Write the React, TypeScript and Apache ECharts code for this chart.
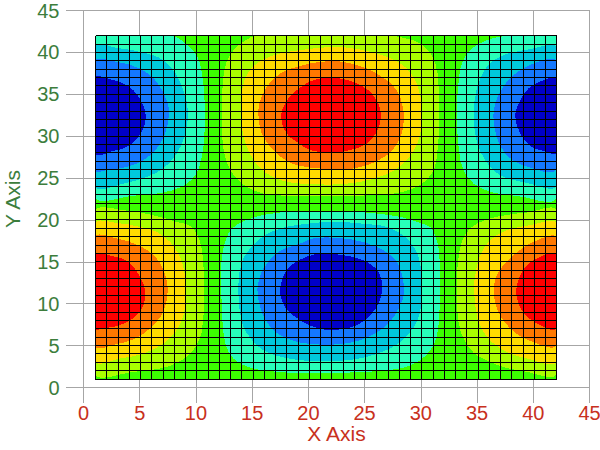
import React, { useEffect, useRef } from "react";
import * as echarts from "echarts";

const axisTicks = [0, 5, 10, 15, 20, 25, 30, 35, 40, 45];
const meshLines = [1,2,3,4,5,6,7,8,9,10,11,12,13,14,15,16,17,18,19,20,21,22,23,24,25,26,27,28,29,30,31,32,33,34,35,36,37,38,39,40,41,42];
const xTitle = "X Axis";
const yTitle = "Y Axis";

type P = [number, number];
const domain: P[] = [[1,1],[42,1],[42,42],[1,42]];

// Contour outlines, in data units
const tlAqua: P[] = [[1,42],[7.8,42],[8.99,41.1],[10.02,39.66],[10.47,37.67],[10.68,35.08],[10.77,32.5],[10.65,29.1],[10.41,27.1],[9.88,25.3],[8.69,23.95],[6.76,23.2],[4.39,22.9],[1,22.75]];
const tlCyan: P[] = [[1,40.74],[2.91,40.54],[5.28,39.98],[7.06,39.07],[8.24,37.28],[8.99,34.89],[9.25,32.7],[8.99,30.11],[8.24,27.93],[7.06,26.14],[5.58,25.14],[3.8,24.42],[1,24.07]];
const tlBlue: P[] = [[1,38.95],[2.91,38.87],[4.98,38.07],[6.47,36.48],[7.35,34.29],[7.56,32.7],[7.21,30.3],[6.47,28.52],[5.28,27.13],[3.8,26.33],[2.02,25.94],[1,25.86]];
const tlDeep: P[] = [[1,37],[2.31,36.8],[3.5,36.28],[4.39,35.48],[5.13,34.1],[5.49,32.5],[5.28,30.9],[4.69,29.7],[3.8,28.7],[2.61,28.24],[1,27.9]];

const trAqua: P[] = [[42,42],[37.75,42],[35.97,41.53],[34.49,40.46],[33.6,38.67],[33.25,35.49],[33.16,32.5],[33.34,28.32],[33.75,25.93],[34.64,24.35],[36.13,23.35],[38.5,22.87],[42,22.67]];
const trCyan: P[] = [[42,40.58],[39.68,40.38],[37.31,39.66],[35.82,38.27],[34.94,35.68],[34.64,32.5],[34.94,29.32],[35.68,27.13],[37,25.34],[39.38,24.43],[42,24.07]];
const trBlue: P[] = [[42,38.95],[39.98,38.67],[38.2,37.28],[37,35.29],[36.42,32.7],[36.71,29.92],[37.6,27.73],[39.08,26.53],[42,26.05]];
const trDeep: P[] = [[42,36.88],[40.72,36.6],[39.53,35.69],[38.79,34.29],[38.35,32.5],[38.73,30.51],[39.68,28.84],[40.87,28.24],[42,28]];

const tcLime: P[] = [[15.36,42],[14.32,41.4],[13.29,40.26],[12.63,38.67],[12.34,36.28],[12.25,32.5],[12.34,29.1],[12.69,26.93],[13.43,25.14],[14.47,23.95],[15.96,23.15],[18.03,22.87],[19.22,22.83],[23.67,22.87],[27.52,23.15],[29.6,23.95],[30.93,25.54],[31.38,27.53],[31.61,32.5],[31.44,37.5],[30.93,39.66],[29.89,41.05],[28.7,41.65],[27.08,42]];
const tcYellow: P[] = [[19.22,40.27],[17.44,39.87],[15.81,39.07],[14.62,37.67],[14.09,35.68],[13.94,32.5],[14.23,29.72],[15.07,27.13],[16.25,25.54],[17.73,24.66],[19.22,24.35],[22.18,24.23],[24.55,24.54],[26.93,25.46],[28.71,27.13],[29.75,29.52],[30.1,32.5],[29.75,35.68],[28.71,38.07],[26.93,39.47],[24.55,40.34],[22.18,40.66]];
const tcOrange: P[] = [[19.22,38.39],[17.44,37.48],[16.25,35.88],[15.6,33.9],[15.51,32.5],[15.81,30.31],[16.84,28.32],[18.03,27.05],[19.22,26.45],[21,26.14],[22.78,25.94],[25.15,26.53],[26.93,27.73],[28.11,29.72],[28.44,32.5],[27.97,35.09],[26.93,36.68],[25.15,38.07],[23.07,38.87],[21,38.87]];
const tcRed: P[] = [[19.22,35.8],[18.18,34.49],[17.53,32.5],[18.03,30.31],[19.22,29.04],[20.11,28.33],[21.89,28.01],[23.67,28.33],[25.15,29.13],[26.1,30.71],[26.42,32.5],[26.1,34.1],[25.3,35.49],[23.96,36.48],[22.18,37],[20.4,36.68]];

const blLime: P[] = [[1,21],[3.8,21.12],[6.17,20.56],[8.24,19.77],[9.58,19.17],[10.32,17.38],[10.62,14.6],[10.68,10.22],[10.47,6.64],[10.02,5.05],[9.13,3.66],[7.35,2.46],[4.39,1.87],[1,1.67]];
const blYellow: P[] = [[1,19.57],[2.91,19.65],[4.98,19.17],[6.47,18.57],[7.65,17.38],[8.54,15.59],[8.99,13.4],[9.05,11.41],[8.9,8.83],[8.24,6.84],[7.06,5.25],[5.28,4.05],[3.2,3.46],[1,3.14]];
const blOrange: P[] = [[1,17.98],[2.91,17.78],[4.98,16.9],[6.47,15.39],[7.27,13.2],[7.44,11.41],[7.06,9.03],[6.02,7.24],[4.69,5.92],[2.91,5.17],[1,4.97]];
const blRed: P[] = [[1,15.87],[2.46,15.71],[3.94,15],[4.98,13.2],[5.43,11.61],[5.28,9.82],[4.54,8.43],[3.2,7.44],[2.02,7.12],[1,7.04]];

const bcAqua: P[] = [[13.88,19.65],[16.25,20.68],[19.22,21.04],[22.18,21.08],[25.15,20.88],[28.11,20.37],[30.19,19.5],[30.93,18.97],[31.53,16.58],[31.67,12.6],[31.53,7.44],[31.08,5.05],[29.89,3.26],[28.11,2.26],[23.67,1.79],[19.22,1.75],[18.03,1.79],[15.07,2.26],[13.29,3.46],[12.54,5.45],[12.25,9.82],[12.25,15.39],[12.84,18.37]];
const bcCyan: P[] = [[19.22,19.45],[22.18,19.79],[25.15,19.5],[26.93,19.17],[28.71,17.78],[29.75,15.6],[30.1,12.21],[29.66,8.03],[27.96,5.25],[25.15,3.66],[22.18,3.14],[19.22,3.26],[16.55,4.05],[15.07,5.45],[14.03,7.83],[13.73,12.21],[14.18,15.39],[15.66,17.78],[17.44,18.97]];
const bcBlue: P[] = [[19.22,17.19],[17.29,16.19],[15.96,14.2],[15.43,11.81],[15.81,9.03],[16.99,6.64],[19.22,5.37],[22.18,5.13],[24.55,5.65],[26.93,7.44],[28.26,10.22],[28.47,12.01],[27.82,15],[26.04,16.79],[23.67,17.7],[20.7,17.86]];
const bcDeep: P[] = [[19.22,15.27],[18.03,14],[17.44,11.61],[17.97,9.43],[19.22,8.03],[20.4,7.24],[21.89,6.84],[24.26,7.44],[25.89,9.34],[26.52,11.61],[26.19,13.8],[24.85,15.19],[23.07,15.79],[20.99,15.99]];

const brLime: P[] = [[42,21.09],[39.38,20.89],[36.71,20.37],[34.94,19.57],[33.96,18.38],[33.4,16.38],[33.16,12.6],[33.3,7.83],[33.9,5.45],[34.94,3.85],[37,2.58],[39.09,1.95],[42,1.67]];
const brYellow: P[] = [[42,19.57],[39.68,19.37],[37.6,18.78],[36.12,17.58],[35.23,15.79],[34.79,13.4],[34.69,11.61],[34.99,8.23],[35.82,6.04],[37.31,4.45],[39.38,3.46],[42,3.14]];
const brOrange: P[] = [[42,17.9],[39.98,17.38],[38.2,15.79],[36.87,13.8],[36.42,11.61],[36.87,8.95],[37.91,7.04],[39.53,5.65],[42,5.05]];
const brRed: P[] = [[42,15.87],[40.42,15.51],[39.15,14.2],[38.44,11.61],[38.94,9.23],[40.13,7.75],[42,7.04]];

const GREEN = "#3cff00", AQUA = "#28ffb9", CYAN = "#00c8dc", BLUE = "#1478ff", DEEP = "#0000c8";
const LIME = "#aaff00", YELLOW = "#ffdc00", ORANGE = "#ff7800", RED = "#ff0000";

const layers: { pts: P[]; fill: string }[] = [
  { pts: domain, fill: GREEN },
  { pts: tlAqua, fill: AQUA }, { pts: tlCyan, fill: CYAN }, { pts: tlBlue, fill: BLUE }, { pts: tlDeep, fill: DEEP },
  { pts: trAqua, fill: AQUA }, { pts: trCyan, fill: CYAN }, { pts: trBlue, fill: BLUE }, { pts: trDeep, fill: DEEP },
  { pts: bcAqua, fill: AQUA }, { pts: bcCyan, fill: CYAN }, { pts: bcBlue, fill: BLUE }, { pts: bcDeep, fill: DEEP },
  { pts: tcLime, fill: LIME }, { pts: tcYellow, fill: YELLOW }, { pts: tcOrange, fill: ORANGE }, { pts: tcRed, fill: RED },
  { pts: blLime, fill: LIME }, { pts: blYellow, fill: YELLOW }, { pts: blOrange, fill: ORANGE }, { pts: blRed, fill: RED },
  { pts: brLime, fill: LIME }, { pts: brYellow, fill: YELLOW }, { pts: brOrange, fill: ORANGE }, { pts: brRed, fill: RED },
];

const GRAY = "#a6a6a6";
const FONT = "'Liberation Sans', Arial, sans-serif";
const X_COLOR = "#c83020";
const Y_COLOR = "#3c7d3c";

export default function App() {
  const ref = useRef<HTMLDivElement>(null);
  useEffect(() => {
    const chart = echarts.init(ref.current!, undefined, { renderer: "svg" });
    const lo = meshLines[0];
    const hi = meshLines[meshLines.length - 1];
    chart.setOption({
      animation: false,
      backgroundColor: "#ffffff",
      grid: { left: 83.5, top: 10.5, width: 506, height: 377, containLabel: false, outerBoundsMode: "none" },
      xAxis: {
        type: "value", min: 0, max: 45, interval: 5,
        name: xTitle, nameLocation: "middle", nameGap: 35, nameMoveOverlap: false,
        nameTextStyle: { color: X_COLOR, fontSize: 21, fontFamily: FONT },
        axisLine: { show: true, onZero: false, lineStyle: { color: GRAY, width: 1 } },
        axisTick: { show: true, length: 15, lineStyle: { color: GRAY, width: 1 } },
        axisLabel: { color: X_COLOR, fontSize: 20, fontFamily: FONT, margin: 15, hideOverlap: false, showMinLabel: true, showMaxLabel: true, formatter: (v: number) => (axisTicks.includes(v) ? String(v) : "") },
        splitLine: { show: true, lineStyle: { color: GRAY, width: 1 } },
      },
      yAxis: {
        type: "value", min: 0, max: 45, interval: 5,
        name: yTitle, nameLocation: "middle", nameGap: 61, nameRotate: 90, nameMoveOverlap: false,
        nameTextStyle: { color: Y_COLOR, fontSize: 21, fontFamily: FONT },
        axisLine: { show: true, onZero: false, lineStyle: { color: GRAY, width: 1 } },
        axisTick: { show: true, length: 18, lineStyle: { color: GRAY, width: 1 } },
        axisLabel: { color: Y_COLOR, fontSize: 20, fontFamily: FONT, margin: 24, hideOverlap: false, showMinLabel: true, showMaxLabel: true, formatter: (v: number) => (axisTicks.includes(v) ? String(v) : "") },
        splitLine: { show: true, lineStyle: { color: GRAY, width: 1 } },
      },
      series: [
        {
          type: "custom",
          coordinateSystem: "cartesian2d",
          silent: true,
          clip: false,
          data: layers.map((l) => [l.pts[0][0], l.pts[0][1]]),
          renderItem: (params: any, api: any) => {
            const l = layers[params.dataIndex];
            const tl = api.coord([lo, hi]);
            const br = api.coord([hi, lo]);
            return {
              type: "polygon",
              x: 0.5,
              shape: { points: l.pts.map((p) => api.coord(p)), smooth: l.pts === domain ? 0 : 0.33 },
              style: { fill: l.fill },
              clipPath: { type: "rect", shape: { x: tl[0], y: tl[1], width: br[0] - tl[0], height: br[1] - tl[1] } },
            };
          },
          z: 3,
        },
        {
          type: "custom",
          coordinateSystem: "cartesian2d",
          silent: true,
          clip: false,
          data: meshLines.map((v) => [v, v]),
          renderItem: (params: any, api: any) => {
            const v = meshLines[params.dataIndex];
            // pixel-snap what the axes give, so each mesh line is one crisp pixel wide
            const sx = (n: number) => Math.ceil(n) + 0.5;
            const sy = (n: number) => Math.floor(n) + 0.5;
            const a = api.coord([v, lo]);
            const b = api.coord([v, hi]);
            const c = api.coord([lo, v]);
            const d = api.coord([hi, v]);
            const style = { stroke: "#000000", lineWidth: 1, fill: "none" };
            return {
              type: "group",
              children: [
                { type: "line", shape: { x1: sx(a[0]), y1: sy(a[1]), x2: sx(b[0]), y2: sy(b[1]) }, style },
                { type: "line", shape: { x1: sx(c[0]), y1: sy(c[1]), x2: sx(d[0]), y2: sy(d[1]) }, style },
              ],
            };
          },
          z: 4,
        },
      ],
    });
    return () => chart.dispose();
  }, []);
  return (
    <div style={{ position: "absolute", left: 0, top: 0, width: 600, height: 450 }}>
      <style>{`svg path{shape-rendering:crispEdges}`}</style>
      <div ref={ref} style={{ width: 600, height: 450 }} />
    </div>
  );
}
